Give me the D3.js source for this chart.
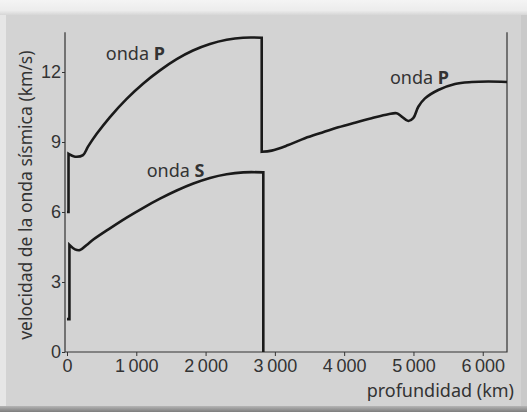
<!DOCTYPE html>
<html>
<head>
<meta charset="utf-8">
<script src="https://cdn.jsdelivr.net/npm/d3@7"></script>
<style>
  html, body { margin: 0; padding: 0; background: #d3d3d3; }
  svg { display: block; font-family: "Noto Sans", sans-serif; }
</style>
</head>
<body>
<svg id="chart" width="527" height="412"></svg>
<script>
// depth (km), velocity (km/s), split where the curve jumps
const pWave = [
    [[0, 6.0], [22, 6.0]],
    [[22, 8.49], [115, 8.37], [231, 8.44], [303, 8.8], [429, 9.35], [620, 10.07], [861, 10.85],
     [1097, 11.5], [1342, 12.07], [1583, 12.55], [1818, 12.92], [2063, 13.2], [2304, 13.38],
     [2540, 13.47], [2810, 13.47]],
    [[2810, 8.58], [2954, 8.63], [3194, 8.87], [3434, 9.16], [3675, 9.4], [3915, 9.63], [4156, 9.83],
     [4397, 10.02], [4637, 10.19], [4757, 10.23], [4830, 10.09], [4925, 9.9], [4997, 10.02],
     [5070, 10.51], [5166, 10.87], [5358, 11.23], [5599, 11.49], [5840, 11.57], [6080, 11.59],
     [6350, 11.57]]
];
const sWave = [
    [[0, 1.41], [35, 1.41]],
    [[35, 4.59], [115, 4.4], [188, 4.37], [284, 4.59], [380, 4.82], [620, 5.3], [861, 5.76],
     [1101, 6.18], [1342, 6.57], [1583, 6.92], [1823, 7.22], [2063, 7.46], [2304, 7.62],
     [2544, 7.7], [2833, 7.7]],
    [[2833, 0], [2833, 0]]
];
const xTicks = [0, 1000, 2000, 3000, 4000, 5000, 6000];
const yTicks = [0, 3, 6, 9, 12];
const labels = [
    {text: 'onda ', bold: 'P', depth: 560, v: 12.5},
    {text: 'onda ', bold: 'S', depth: 1150, v: 7.5},
    {text: 'onda ', bold: 'P', depth: 4660, v: 11.5}
];
const yTitle = 'velocidad de la onda sísmica (km/s)';
const xTitle = 'profundidad (km)';

const svg = d3.select('#chart');
const W = 527, H = 412;

// panel with the light top/left edge and dark bottom edge
const defs = svg.append('defs');
const topGrad = defs.append('linearGradient').attr('id', 'topg').attr('x1', 0).attr('y1', 0).attr('x2', 0).attr('y2', 1);
topGrad.append('stop').attr('offset', 0).attr('stop-color', '#f4f4f4');
topGrad.append('stop').attr('offset', 0.7).attr('stop-color', '#ececec');
topGrad.append('stop').attr('offset', 1).attr('stop-color', '#d6d6d6');
const botGrad = defs.append('linearGradient').attr('id', 'botg').attr('x1', 0).attr('y1', 0).attr('x2', 0).attr('y2', 1);
botGrad.append('stop').attr('offset', 0).attr('stop-color', '#b5b5b5');
botGrad.append('stop').attr('offset', 1).attr('stop-color', '#7d7d7d');

svg.append('rect').attr('width', W).attr('height', H).attr('fill', '#d3d3d3');
svg.append('rect').attr('width', 6).attr('height', H).attr('fill', '#e6e6e6');
svg.append('rect').attr('x', W - 6).attr('width', 6).attr('height', H).attr('fill', '#c9c9c9');
svg.append('rect').attr('width', W).attr('height', 15).attr('fill', 'url(#topg)');
svg.append('rect').attr('y', H - 6).attr('width', W).attr('height', 6).attr('fill', 'url(#botg)');

const x = d3.scaleLinear().domain([0, 6350]).range([67, 507]);
const y = d3.scaleLinear().domain([0, 12]).range([352, 72]);
const yTop = 13.7;
const axisX = x(0) - 2;

const ink = '#333';

// axes
const xAxis = svg.append('g').attr('transform', `translate(0,${y(0)})`)
    .call(d3.axisBottom(x).tickValues(xTicks).tickSize(4).tickPadding(3)
        .tickFormat(d => d < 1000 ? d : d3.format('d')(d / 1000) + '\u2009000'));
xAxis.select('.domain').remove();
xAxis.selectAll('line').attr('stroke', ink);
xAxis.selectAll('text').attr('fill', ink).style('font-size', '18px').attr('font-family', null);

const yAxis = svg.append('g').attr('transform', `translate(${axisX},0)`)
    .call(d3.axisLeft(y).tickValues(yTicks).tickSize(3).tickPadding(1));
yAxis.select('.domain').remove();
yAxis.selectAll('line').attr('stroke', ink);
yAxis.selectAll('text').attr('fill', ink).style('font-size', '18px').attr('font-family', null);

// frame: left, bottom, right
svg.append('path')
    .attr('d', `M${axisX},${y(yTop)}V${y(0)}H${x(6350)}V${y(yTop)}`)
    .attr('fill', 'none').attr('stroke', ink).attr('stroke-width', 1.2);

// curves: smooth within a segment, straight jumps between segments
const seg = d3.line().x(d => x(d[0])).y(d => y(d[1])).curve(d3.curveCatmullRom.alpha(0.5));
function wavePath(segments) {
    return segments.map((s, i) => {
        const p = s.length > 2 ? seg(s) : `M${x(s[0][0])},${y(s[0][1])}L${x(s[1][0])},${y(s[1][1])}`;
        return i === 0 ? p : p.replace(/^M/, 'L');
    }).join('');
}
[pWave, sWave].forEach(w => {
    svg.append('path').attr('d', wavePath(w))
        .attr('fill', 'none').attr('stroke', '#1a1a1a').attr('stroke-width', 2.6)
        .attr('stroke-linejoin', 'miter');
});

// labels
labels.forEach(l => {
    const t = svg.append('text').attr('x', x(l.depth)).attr('y', y(l.v))
        .attr('fill', ink).style('font-size', '18px');
    t.append('tspan').text(l.text);
    t.append('tspan').attr('font-weight', 'bold').text(l.bold);
});

svg.append('text')
    .attr('transform', `translate(32,${(y(yTop) + y(0)) / 2 + 3}) rotate(-90)`)
    .attr('text-anchor', 'middle').attr('fill', ink).style('font-size', '17.5px')
    .text(yTitle);

svg.append('text').attr('x', 514).attr('y', 397).attr('text-anchor', 'end')
    .attr('fill', ink).style('font-size', '18px').text(xTitle);
</script>
</body>
</html>
